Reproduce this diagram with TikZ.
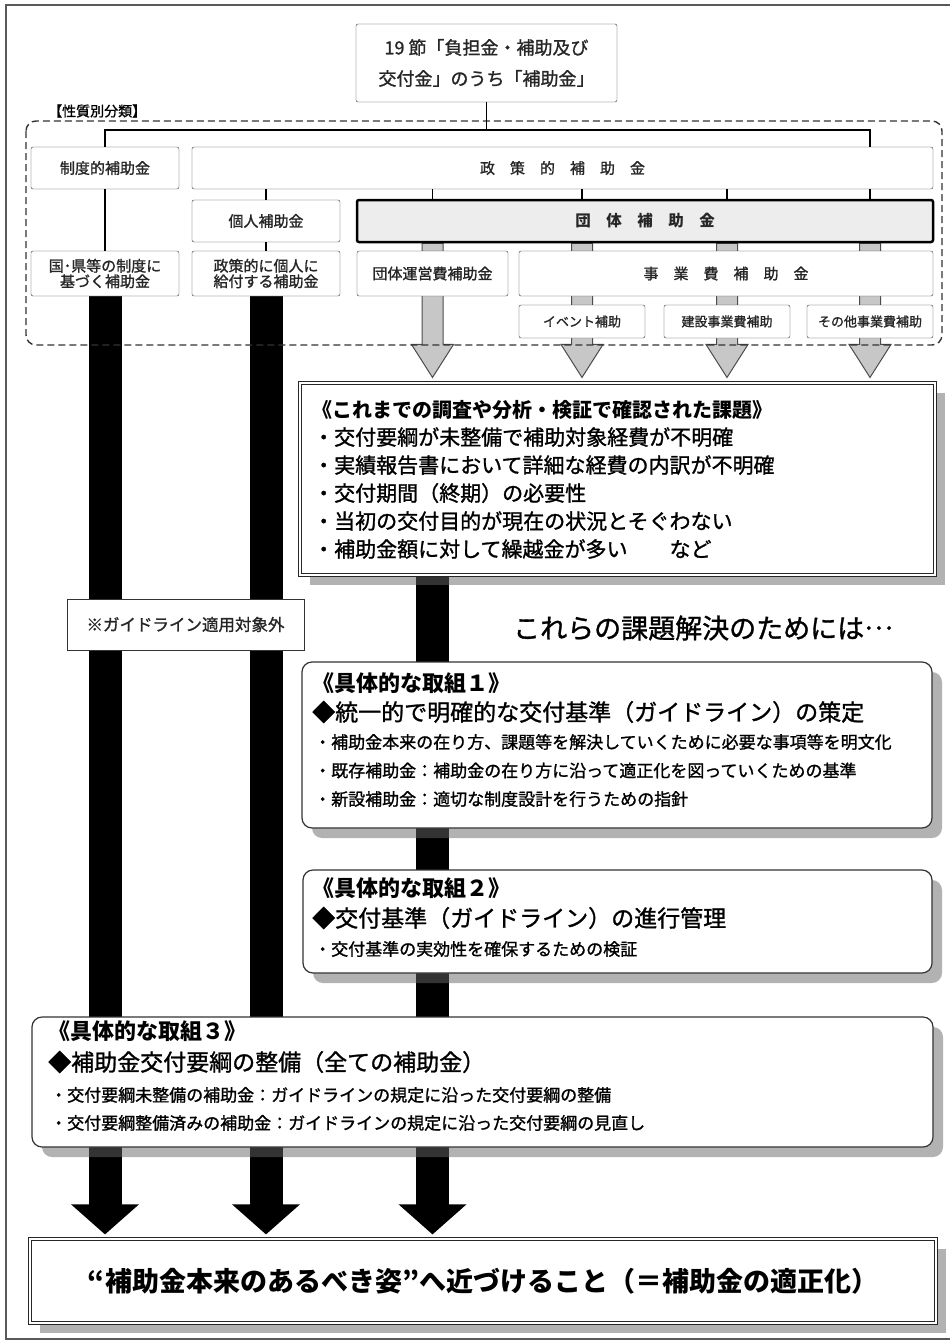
\documentclass[tikz,border=0pt]{standalone}
\usepackage{fontspec}
\setmainfont{Noto Sans CJK JP}[UprightFeatures={RawFeature={embolden=1.2}}]
\usetikzlibrary{calc,shadows,backgrounds,arrows.meta}

\tikzset{
  box/.style={draw=black!80, fill=white, rounded corners=2pt, inner sep=0pt, align=center, text=black!85, font=\fontsize{15}{15.5}\selectfont},
  smallbox/.style={box, font=\fontsize{13}{13}\selectfont},
  tree/.style={line width=1.8pt},
  shade/.style={drop shadow={shadow xshift=10pt, shadow yshift=-10pt, fill=black!60, opacity=.5}},
  dbl/.style={draw=black!85, line width=1.1pt, double=white, double distance=2pt, fill=white, shade},
  plan/.style={draw=black!80, line width=1.2pt, fill=white, rounded corners=10pt, shade},
  txt/.style={anchor=west, inner sep=0pt, align=left},
  garrow/.style={draw=black!70, line width=1pt, fill=black!22},
  bar/.style={line width=33pt, -{Triangle[width=66pt,length=30pt]}}
}

\begin{document}
\begin{tikzpicture}[x=1pt, y=-1pt]
  \useasboundingbox (0,0) rectangle (950,1344);
  % cadre
  \draw[line width=2pt, black!65] (6,5) rectangle (962,1339);

  % en-tête et classement
  \node[box, minimum width=261pt, minimum height=78pt, font=\fontsize{18}{31}\selectfont] (top) at (486.5,63) {19 節「負担金・補助及び\\交付金」のうち「補助金」};
  \node[txt, font=\fontsize{14}{14}\selectfont] (kind) at (48,111) {【性質別分類】};
  \draw[line width=1.4pt, black!80, dash pattern=on 7pt off 4pt, rounded corners=10pt] (26,121) rectangle (942,345);
  \coordinate (hub) at ($(top.south)+(0,28)$);

  % niveaux 1 et 2
  \node[box, minimum width=148pt, minimum height=42pt] (seido) at (105,168) {制度的補助金};
  \node[box, minimum width=741pt, minimum height=42pt] (seisaku) at (562.5,168) {政　策　的　補　助　金};
  \node[box, minimum width=148pt, minimum height=42pt] (kojin) at (266,221) {個人補助金};
  \node[box, minimum width=576pt, minimum height=42pt, line width=2.5pt, draw=black, fill=black!7, font=\bfseries\fontsize{15.5}{15.5}\selectfont] (dantai) at (645,221) {団　体　補　助　金};

  % niveaux 3 et 4
  \node[box, minimum width=148pt, minimum height=45pt] (kuni) at (105,273.5) {国･県等の制度に\\基づく補助金};
  \node[box, minimum width=148pt, minimum height=45pt] (kojin2) at (266,273.5) {政策的に個人に\\給付する補助金};
  \node[box, minimum width=151pt, minimum height=45pt] (unei) at (432.5,273.5) {団体運営費補助金};
  \node[box, minimum width=414pt, minimum height=45pt] (jigyo) at (726,273.5) {事　業　費　補　助　金};
  \node[smallbox, minimum width=126pt, minimum height=33pt] (event) at (582,321.5) {イベント補助};
  \node[smallbox, minimum width=126pt, minimum height=33pt] (kensetsu) at (727,321.5) {建設事業費補助};
  \node[smallbox, minimum width=126pt, minimum height=33pt] (sonota) at (870,321.5) {その他事業費補助};

  % arêtes de l'arbre
  \draw[tree] (top.south) -- (hub);
  \draw[tree] (seido.north) |- (hub) -| (seisaku.north -| sonota);
  \draw[tree] (seido.south) -- (kuni.north);
  \draw[tree] (seisaku.south -| kojin) -- (kojin.north);
  \draw[tree] (kojin.south) -- (kojin2.north);
  \foreach \n in {unei,event,kensetsu,sonota}
    \draw[tree] (seisaku.south -| \n) -- (dantai.north -| \n);

  % 課題
  \node[dbl, minimum width=635pt, minimum height=192pt] (issue) at (617.5,479) {};
  \node[txt, font=\bfseries\fontsize{20}{20}\selectfont] (issuettl) at (312,410) {《これまでの調査や分析・検証で確認された課題》};
  \node[txt, font=\fontsize{21}{28}\selectfont] (issuelist) at (313,493) {・交付要綱が未整備で補助対象経費が不明確\\・実績報告書において詳細な経費の内訳が不明確\\・交付期間（終期）の必要性\\・当初の交付目的が現在の状況とそぐわない\\・補助金額に対して繰越金が多い　　など};

  \node[box, rounded corners=0pt, minimum width=237pt, minimum height=51pt, font=\fontsize{16.5}{16.5}\selectfont] (outside) at (185.5,624.5) {※ガイドライン適用対象外};
  \node[txt, font=\fontsize{27}{27}\selectfont] (solve) at (513,628) {これらの課題解決のためには\raisebox{.32em}{…}};

  % 取組 1
  \node[plan, minimum width=630pt, minimum height=166pt] (plan1) at (617,745) {};
  \node[txt, font=\bfseries\fontsize{22}{22}\selectfont] (plan1ttl) at (312,683) {《具体的な取組１》};
  \node[txt, font=\fontsize{23}{23}\selectfont] (plan1main) at (312,712) {◆統一的で明確的な交付基準（ガイドライン）の策定};
  \node[txt, font=\fontsize{17}{28.5}\selectfont] (plan1list) at (314,770.5) {・補助金本来の在り方、課題等を解決していくために必要な事項等を明文化\\・既存補助金：補助金の在り方に沿って適正化を図っていくための基準\\・新設補助金：適切な制度設計を行うための指針};

  % 取組 2
  \node[plan, minimum width=629pt, minimum height=103pt] (plan2) at (617.5,921.5) {};
  \node[txt, font=\bfseries\fontsize{22}{22}\selectfont] (plan2ttl) at (312,888) {《具体的な取組２》};
  \node[txt, font=\fontsize{23}{23}\selectfont] (plan2main) at (312,918) {◆交付基準（ガイドライン）の進行管理};
  \node[txt, font=\fontsize{17}{17}\selectfont] (plan2list) at (314,949) {・交付基準の実効性を確保するための検証};

  % 取組 3
  \node[plan, minimum width=901pt, minimum height=130pt] (plan3) at (482.5,1082) {};
  \node[txt, font=\bfseries\fontsize{22}{22}\selectfont] (plan3ttl) at (48,1031) {《具体的な取組３》};
  \node[txt, font=\fontsize{23}{23}\selectfont] (plan3main) at (48,1062) {◆補助金交付要綱の整備（全ての補助金）};
  \node[txt, font=\fontsize{17}{28}\selectfont] (plan3list) at (50,1109) {・交付要綱未整備の補助金：ガイドラインの規定に沿った交付要綱の整備\\・交付要綱整備済みの補助金：ガイドラインの規定に沿った交付要綱の見直し};

  % 目標
  \node[dbl, minimum width=906pt, minimum height=84pt, font=\bfseries\fontsize{27}{27}\selectfont] (goal) at (483,1281) {“補助金本来のあるべき姿”へ近づけること（＝補助金の適正化）};

  % flèches derrière les boîtes
  \begin{scope}[on background layer]
    \foreach \n in {unei,event,kensetsu,sonota}
      \draw[garrow] ($(dantai.south -| \n)+(-10.5,0)$) -- ($(issue.north -| \n)+(-10.5,-38)$) -- ++(-10.5,0) -- ($(issue.north -| \n)+(0,-5)$) -- ($(issue.north -| \n)+(21,-38)$) -- ++(-10.5,0) -- ($(dantai.south -| \n)+(10.5,0)$) -- cycle;
    \foreach \n in {kuni,kojin2}
      \draw[bar] (\n.south) -- ($(goal.north -| \n)+(0,-4)$);
    \draw[bar] (issue.south -| unei) -- ($(goal.north -| unei)+(0,-4)$);
  \end{scope}
\end{tikzpicture}
\end{document}
